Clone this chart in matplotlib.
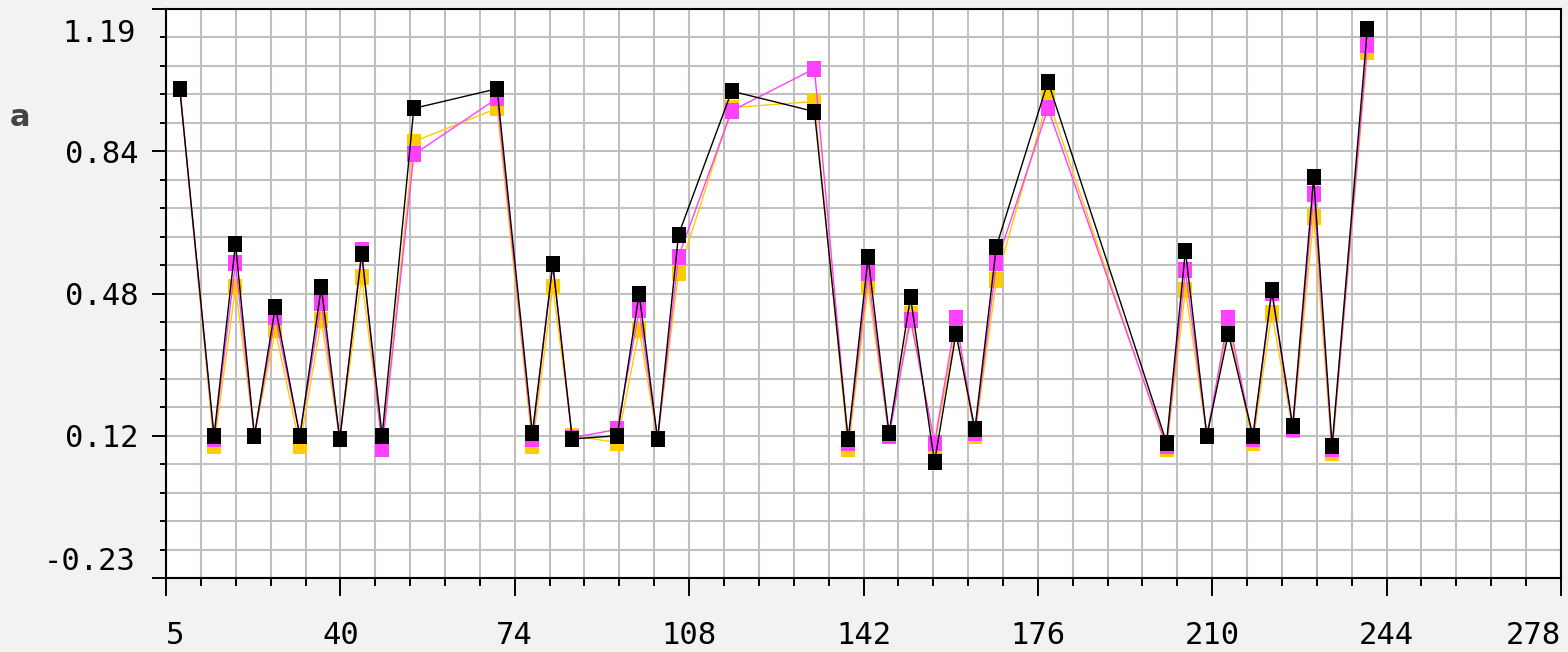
import numpy as np
import matplotlib
matplotlib.use("Agg")
import matplotlib.pyplot as plt
from matplotlib.path import Path
from matplotlib.ticker import FixedLocator

# data
x = [7.7, 14.4, 18.6, 22.3, 26.4, 31.2, 35.4, 39.0, 43.3, 47.3,
     53.5, 69.8, 76.7, 80.7, 84.5, 93.3, 97.6, 101.2, 105.3, 115.7,
     131.9, 138.5, 142.4, 146.5, 150.7, 155.4, 159.6, 163.3, 167.5, 177.6,
     200.8, 204.5, 208.7, 212.9, 217.7, 221.4, 225.5, 229.6, 233.2, 240.1]

black = [0.991, 0.125, 0.604, 0.125, 0.447, 0.125, 0.496, 0.116, 0.579, 0.125,
         0.942, 0.991, 0.131, 0.553, 0.117, 0.125, 0.480, 0.116, 0.627, 0.985,
         0.934, 0.116, 0.571, 0.131, 0.471, 0.059, 0.380, 0.141, 0.597, 1.009,
         0.108, 0.587, 0.125, 0.380, 0.125, 0.488, 0.150, 0.770, 0.099, 1.140]

magenta = [0.991, 0.118, 0.555, 0.125, 0.421, 0.125, 0.456, 0.116, 0.588, 0.092,
           0.827, 0.967, 0.118, 0.553, 0.120, 0.141, 0.438, 0.116, 0.572, 0.936,
           1.041, 0.108, 0.530, 0.125, 0.415, 0.108, 0.419, 0.133, 0.555, 0.942,
           0.100, 0.538, 0.125, 0.420, 0.118, 0.481, 0.143, 0.729, 0.092, 1.099]

yellow = [0.991, 0.100, 0.496, 0.125, 0.388, 0.100, 0.413, 0.116, 0.520, 0.105,
          0.859, 0.942, 0.100, 0.496, 0.125, 0.108, 0.389, 0.116, 0.530, 0.944,
          0.959, 0.092, 0.497, 0.125, 0.430, 0.100, 0.390, 0.125, 0.513, 0.967,
          0.092, 0.488, 0.125, 0.400, 0.107, 0.431, 0.140, 0.670, 0.083, 1.083]

xticks = [5, 39.125, 73.25, 107.375, 141.5, 175.625, 209.75, 243.875, 278]
xticklabels = ["5", "40", "74", "108", "142", "176", "210", "244", "278"]
yticks = [-0.23, 0.125, 0.48, 0.835, 1.19]
yticklabels = ["-0.23", "0.12", "0.48", "0.84", "1.19"]

plt.rcParams['font.family'] = ['DejaVu Sans Mono']
fs = 22

fig = plt.figure(figsize=(15.68, 6.52), dpi=100, facecolor="#f2f2f2")
ax = fig.add_axes([166/1568, 1-578/652, (1561-166)/1568, (578-9)/652])

# tall rectangle marker
rect = Path([(-0.42, -0.5), (0.42, -0.5), (0.42, 0.5), (-0.42, 0.5), (-0.42, -0.5)],
            [Path.MOVETO, Path.LINETO, Path.LINETO, Path.LINETO, Path.CLOSEPOLY])

ax.plot(x, yellow, color="#ffcc00", lw=1.0, marker=rect, ms=12, mew=0, zorder=3)
ax.plot(x, magenta, color="#ff40ff", lw=1.0, marker=rect, ms=12, mew=0, zorder=4)
ax.plot(x, black, color="black", lw=1.0, marker=rect, ms=12, mew=0, zorder=5)

ax.set_xlim(5, 278)
ax.set_ylim(-0.23, 1.19)

ax.set_xticks(xticks)
ax.set_xticklabels(xticklabels, fontsize=fs)
xminor = np.arange(5, 278.01, 34.125/5)
ax.xaxis.set_minor_locator(FixedLocator(xminor))
yminor = np.arange(-0.23, 1.1901, 0.355/5)
ax.yaxis.set_minor_locator(FixedLocator(yminor))

ax.set_yticks(yticks)
ax.set_yticklabels(["", "0.12", "0.48", "0.84", ""], fontsize=fs)

xl = ax.get_xticklabels()
xl[0].set_ha("left")
xl[-1].set_ha("right")

ax.tick_params(axis="x", which="major", length=13, width=1.4, pad=18)
ax.tick_params(axis="x", which="minor", length=6, width=1.4)
ax.tick_params(axis="y", which="major", length=10, width=1.4, pad=10)
ax.tick_params(axis="y", which="minor", length=4.5, width=1.4)

ax.grid(True, which="both", color="#c0c0c0", lw=1.5, zorder=0)
ax.set_axisbelow(True)
for s in ax.spines.values():
    s.set_linewidth(1.5)

# end labels sit inside the axis range, as in the reference
ax.annotate(yticklabels[4], xy=(0, 1.19), xycoords=("axes fraction", "data"),
            xytext=(-30, -24), textcoords="offset pixels",
            ha="right", va="center", fontsize=fs)
ax.annotate(yticklabels[0], xy=(0, -0.23), xycoords=("axes fraction", "data"),
            xytext=(-30, 16), textcoords="offset pixels",
            ha="right", va="center", fontsize=fs)

fig.text(20/1568, 1-118/652, "a", fontsize=22, fontweight="bold",
         color="#444444", ha="center", va="center", family="DejaVu Sans")

fig.savefig("out.png", dpi=100, facecolor=fig.get_facecolor())
